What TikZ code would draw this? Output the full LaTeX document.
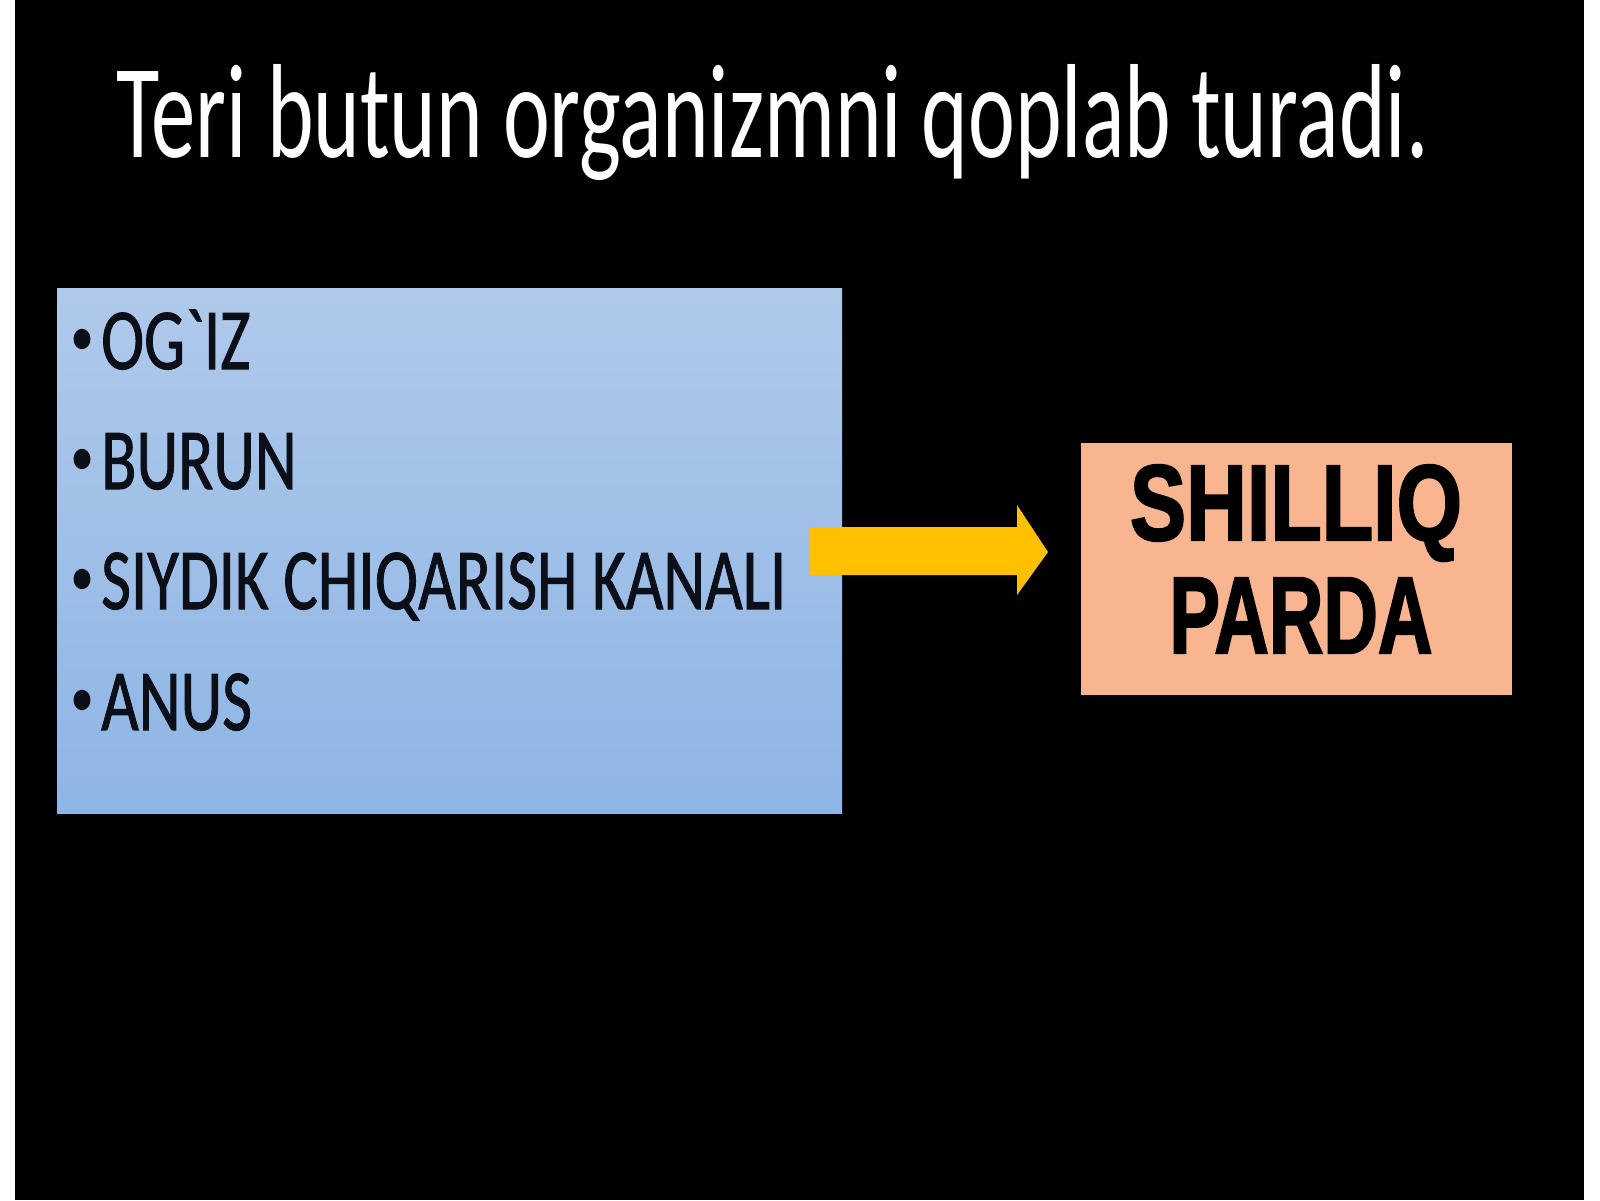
\documentclass[tikz,border=0pt]{standalone}
\usepackage{fontspec}
\setmainfont{Carlito}
\newfontfamily\itemfamily[FakeBold=1.2]{Carlito}
\newfontfamily\arialfont[FakeBold=2.2]{Liberation Sans}
\usepackage{graphicx}
\definecolor{boxtop}{RGB}{175,201,233}
\definecolor{boxbot}{RGB}{141,181,229}
\definecolor{peach}{RGB}{249,181,143}
\definecolor{arrowyellow}{RGB}{255,192,0}
\definecolor{itemtext}{RGB}{12,14,24}
\tikzset{
  itemtext/.style={anchor=base west, inner sep=0pt, text=itemtext},
  bulletmark/.style={circle, inner sep=0pt, fill=itemtext, minimum size=17pt, yscale=1.2},
}
\newcommand{\itemfont}[1]{\scalebox{0.745}[1]{\fontsize{87}{87}\itemfamily #1}}
\begin{document}
\begin{tikzpicture}[x=1pt,y=-1pt]
\useasboundingbox (0,0) rectangle (1600,1200);
\fill[white] (0,0) rectangle (1600,1200);
\fill[black] (15,0) rectangle (1584,1200);
% title
\node[anchor=base west, inner sep=0pt, text=white] (title) at (116,157)
  {\scalebox{0.662}[1]{\fontsize{134}{134}\selectfont Teri butun organizmni qoplab turadi.}};
% blue box
\node[minimum width=785pt, minimum height=525pt, inner sep=0pt,
      top color=boxtop, bottom color=boxbot] (listbox) at (449.5,550.5) {};
% items
\node[bulletmark] (b1) at (82,339) {};
\node[itemtext] (i1) at (101,369) {\itemfont{OG\textasciigrave IZ}};
\node[bulletmark] (b2) at (82,459) {};
\node[itemtext] (i2) at (101,489) {\itemfont{BURUN}};
\node[bulletmark] (b3) at (82,579) {};
\node[itemtext] (i3) at (101,609) {\itemfont{SIYDIK CHIQARISH KANALI}};
\node[bulletmark] (b4) at (82,700) {};
\node[itemtext] (i4) at (101,730) {\itemfont{ANUS}};
% orange box
\node[minimum width=431pt, minimum height=252pt, inner sep=0pt, fill=peach] (result) at (1296.5,569) {};
\node[anchor=base, inner sep=0pt] (r1) at (1296,540)
  {\resizebox{332pt}{75pt}{\arialfont\bfseries SHILLIQ}};
\node[anchor=base, inner sep=0pt] (r2) at (1301,653)
  {\resizebox{263pt}{75pt}{\arialfont\bfseries PARDA}};
% block arrow
\fill[arrowyellow] (810,527) -- (1017,527) -- (1017,505) -- (1048,552) -- (1017,595) -- (1017,575) -- (810,575) -- cycle;
\end{tikzpicture}
\end{document}
